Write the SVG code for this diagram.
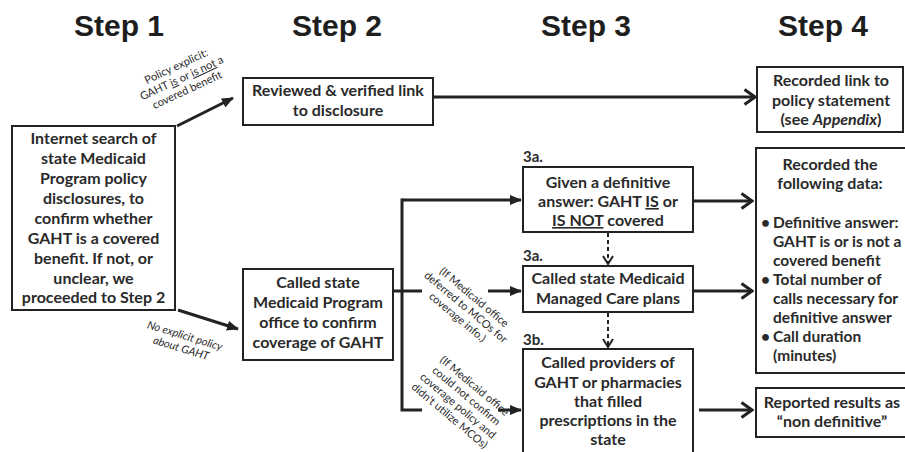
<svg xmlns="http://www.w3.org/2000/svg" width="905" height="452" viewBox="0 0 905 452">
<style>
.title{font-family:"Liberation Sans",Arial,sans-serif;font-weight:bold;font-size:30px;fill:#1e1e1e;text-anchor:middle}
.box{fill:#fff;stroke:#222;stroke-width:2}
.t{font-family:Lato,"Open Sans",sans-serif;font-weight:bold;font-size:16px;fill:#2a2a2a;text-anchor:middle}
.tl{font-family:Lato,"Open Sans",sans-serif;font-weight:bold;font-size:15px;fill:#2a2a2a}
.lab{font-family:Lato,"Open Sans",sans-serif;font-size:11px;fill:#2a2a2a;text-anchor:middle}
.sub{font-family:Lato,"Open Sans",sans-serif;font-weight:bold;font-size:15.5px;fill:#2a2a2a}
.ln{fill:none;stroke:#222;stroke-width:3}
.dash{fill:none;stroke:#222;stroke-width:2;stroke-dasharray:4 3}
.u{text-decoration:underline}
</style>
<defs>
<marker id="tri" markerUnits="userSpaceOnUse" viewBox="0 0 12 10" refX="11" refY="5" markerWidth="12" markerHeight="10" orient="auto"><path d="M0,0 L12,5 L0,10 z" fill="#222"/></marker>
<marker id="chev" markerUnits="userSpaceOnUse" viewBox="0 0 14 18" refX="12" refY="9" markerWidth="14" markerHeight="18" orient="auto"><path d="M1.5,1.5 L12,9 L1.5,16.5" fill="none" stroke="#222" stroke-width="3"/></marker>
<marker id="chevs" markerUnits="userSpaceOnUse" viewBox="0 0 10 12" refX="9" refY="6" markerWidth="10" markerHeight="12" orient="auto"><path d="M1,1 L9,6 L1,11" fill="none" stroke="#222" stroke-width="2"/></marker>
</defs>
<rect width="905" height="452" fill="#fff"/>

<g id="titles">
<text class="title" x="119" y="36">Step 1</text>
<text class="title" x="337" y="36">Step 2</text>
<text class="title" x="586" y="36">Step 3</text>
<text class="title" x="823" y="36">Step 4</text>
</g>

<g id="connectors">
<line class="ln" x1="177" y1="126" x2="233" y2="98" marker-end="url(#tri)"/>
<line class="ln" x1="178" y1="310" x2="238" y2="329" marker-end="url(#tri)"/>
<line class="ln" x1="433" y1="97" x2="755" y2="97" marker-end="url(#chev)"/>
<line class="ln" x1="402" y1="200" x2="521" y2="200" marker-end="url(#tri)"/>
<polyline class="ln" points="402,198.5 402,410 422,410"/>
<line class="ln" x1="393" y1="291" x2="422" y2="291"/>
<line class="ln" x1="488" y1="291" x2="521" y2="291" marker-end="url(#tri)"/>
<line class="ln" x1="498" y1="410" x2="521" y2="410" marker-end="url(#tri)"/>
<line class="dash" x1="608" y1="233" x2="608" y2="264" marker-end="url(#chevs)"/>
<line class="dash" x1="608" y1="313" x2="608" y2="347" marker-end="url(#chevs)"/>
<line class="ln" x1="693" y1="201" x2="752" y2="201" marker-end="url(#chev)"/>
<line class="ln" x1="693" y1="291" x2="752" y2="291" marker-end="url(#chev)"/>
<line class="ln" x1="699" y1="410" x2="752" y2="410" marker-end="url(#chev)"/>
</g>

<g id="labels">
<g transform="translate(183,81) rotate(-25)">
<text class="lab" y="-12.5" font-size="11.5">Policy explicit:</text>
<text class="lab" y="0.5" font-size="11.5">GAHT <tspan class="u">is</tspan> or <tspan class="u">is not</tspan> a</text>
<text class="lab" y="13.5" font-size="11.5">covered benefit</text>
</g>
<g transform="translate(182,345) rotate(17)">
<text class="lab" y="-6" font-size="12" font-style="italic">No explicit policy</text>
<text class="lab" y="7" font-size="12" font-style="italic">about GAHT</text>
</g>
<g transform="translate(466,307) rotate(40)">
<text class="lab" y="-9">(If Medicaid office</text>
<text class="lab" y="4">deferred to MCOs for</text>
<text class="lab" y="17">coverage info.)</text>
</g>
<g transform="translate(462,401) rotate(40)">
<text class="lab" y="-16">(If Medicaid office</text>
<text class="lab" y="-3">could not confirm</text>
<text class="lab" y="10">coverage policy and</text>
<text class="lab" y="23">didn't utilize MCOs)</text>
</g>
</g>

<g id="step1-search">
<rect class="box" x="12" y="126" width="163" height="184"/>
<text class="t" x="93.5" y="144">Internet search of</text>
<text class="t" x="93.5" y="164">state Medicaid</text>
<text class="t" x="93.5" y="184">Program policy</text>
<text class="t" x="93.5" y="204">disclosures, to</text>
<text class="t" x="93.5" y="224">confirm whether</text>
<text class="t" x="93.5" y="244">GAHT is a covered</text>
<text class="t" x="93.5" y="264">benefit. If not, or</text>
<text class="t" x="93.5" y="284">unclear, we</text>
<text class="t" x="93.5" y="303">proceeded to Step 2</text>
</g>

<g id="step2-reviewed">
<rect class="box" x="243" y="78" width="190" height="47"/>
<text class="t" x="338" y="96">Reviewed &amp; verified link</text>
<text class="t" x="338" y="116">to disclosure</text>
</g>

<g id="step2-called">
<rect class="box" x="243" y="269" width="150" height="91"/>
<text class="t" x="318" y="288">Called state</text>
<text class="t" x="318" y="308">Medicaid Program</text>
<text class="t" x="318" y="328">office to confirm</text>
<text class="t" x="318" y="348">coverage of GAHT</text>
</g>

<g id="step3a-definitive">
<text class="tl" x="523" y="162">3a.</text>
<rect class="box" x="523" y="167" width="170" height="65"/>
<text class="t" x="608" y="188">Given a definitive</text>
<text class="t" x="608" y="207">answer: GAHT <tspan class="u">IS</tspan> or</text>
<text class="t" x="608" y="226"><tspan class="u">IS NOT</tspan> covered</text>
</g>

<g id="step3a-mco">
<text class="tl" x="523" y="261">3a.</text>
<rect class="box" x="523" y="266" width="170" height="46"/>
<text class="t" x="608" y="284">Called state Medicaid</text>
<text class="t" x="608" y="304">Managed Care plans</text>
</g>

<g id="step3b-providers">
<text class="tl" x="523" y="345">3b.</text>
<rect class="box" x="523" y="349" width="170" height="108"/>
<text class="t" x="608" y="368">Called providers of</text>
<text class="t" x="608" y="388">GAHT or pharmacies</text>
<text class="t" x="608" y="407">that filled</text>
<text class="t" x="608" y="426">prescriptions in the</text>
<text class="t" x="608" y="445">state</text>
</g>

<g id="step4-link">
<rect class="box" x="757" y="67" width="146" height="65"/>
<text class="t" x="831" y="86">Recorded link to</text>
<text class="t" x="831" y="106">policy statement</text>
<text class="t" x="831" y="125">(see <tspan font-style="italic">Appendix</tspan>)</text>
</g>

<g id="step4-data">
<rect class="box" x="756" y="148" width="160" height="225"/>
<text class="t" x="830" y="170">Recorded the</text>
<text class="t" x="830" y="189">following data:</text>
<text class="sub" x="761" y="228">•</text>
<text class="sub" x="773" y="228">Definitive answer:</text>
<text class="sub" x="773" y="247">GAHT is or is not a</text>
<text class="sub" x="773" y="266">covered benefit</text>
<text class="sub" x="761" y="285">•</text>
<text class="sub" x="773" y="285">Total number of</text>
<text class="sub" x="773" y="304">calls necessary for</text>
<text class="sub" x="773" y="323">definitive answer</text>
<text class="sub" x="761" y="342">•</text>
<text class="sub" x="773" y="342">Call duration</text>
<text class="sub" x="773" y="361">(minutes)</text>
</g>

<g id="step4-nondefinitive">
<rect class="box" x="756" y="388" width="160" height="49"/>
<text class="t" x="832" y="408">Reported results as</text>
<text class="t" x="832" y="427">“non definitive”</text>
</g>
</svg>
